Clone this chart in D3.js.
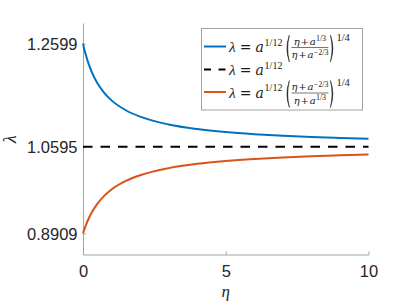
<!DOCTYPE html>
<html><head><meta charset="utf-8">
<script src="https://cdn.jsdelivr.net/npm/d3@7"></script>
<style>html,body{margin:0;padding:0;background:#fff;}</style>
</head><body>
<svg id="c" width="407" height="305"></svg>
<script>
const eta =      [0, 0.05, 0.1, 0.2, 0.25, 0.3, 0.5, 0.75, 1, 1.5, 2, 3, 4, 5, 6, 7, 8, 9, 10];
const upper =    [1.2599, 1.2482, 1.2378, 1.2201, 1.2126, 1.2057, 1.1836, 1.1639, 1.1496, 1.1304, 1.1179, 1.1027, 1.0938, 1.0879, 1.0838, 1.0807, 1.0783, 1.0764, 1.0748];
const lower =    [0.8909, 0.8993, 0.9068, 0.9200, 0.9257, 0.9310, 0.9484, 0.9644, 0.9764, 0.9930, 1.0041, 1.0179, 1.0262, 1.0317, 1.0357, 1.0387, 1.0410, 1.0428, 1.0443];
const baseline = 1.0595;
const yTicks = [0.8909, 1.0595, 1.2599];
const yTickLabels = ["0.8909", "1.0595", "1.2599"];
const xTicks = [0, 5, 10];
const xDomain = [0, 10];
const yDomain = [0.85, 1.30];

const svg = d3.select("#c");
const L = 83, R = 368.5, T = 23, B = 254.5;
const x = d3.scaleLinear().domain(xDomain).range([L, R]);
const y = d3.scaleLinear().domain(yDomain).range([B, T]);
const axisColor = "#a3a3a3", textColor = "#262626";
const sans = "'Liberation Sans', Arial, Helvetica, sans-serif";
const serif = "'DejaVu Serif', serif";
const serif2 = "'Liberation Serif', serif";

// axes
const gx = svg.append("g").attr("transform", `translate(0,${B})`)
  .call(d3.axisBottom(x).tickValues(xTicks).tickSizeInner(-3).tickSizeOuter(0).tickPadding(11).tickFormat(d3.format("d")));
const gy = svg.append("g").attr("transform", `translate(${L},0)`)
  .call(d3.axisLeft(y).tickValues(yTicks).tickSizeInner(-3).tickSizeOuter(0).tickPadding(5.5).tickFormat((d,i)=>yTickLabels[i]));
[gx, gy].forEach(g => {
  g.select(".domain").attr("stroke", axisColor).attr("stroke-width", 1);
  g.selectAll(".tick line").attr("stroke", axisColor);
  g.selectAll(".tick text").attr("fill", textColor).style("font-family", sans).style("font-size", "16.5px");
});
gx.selectAll(".tick text").attr("dy", "0.71em");
gy.selectAll(".tick text").attr("dy", "0.36em");

// lines
const line = d3.line().x((d,i)=>x(eta[i])).y(d=>y(d)).curve(d3.curveMonotoneX);
svg.append("path").datum(upper).attr("d", line).attr("fill","none").attr("stroke","#0072BD").attr("stroke-width",2);
svg.append("path").datum(lower).attr("d", line).attr("fill","none").attr("stroke","#D95319").attr("stroke-width",2);
svg.append("line").attr("x1", x(xDomain[0])).attr("x2", x(xDomain[1])).attr("y1", y(baseline)).attr("y2", y(baseline))
  .attr("stroke","#000").attr("stroke-width",2).attr("stroke-dasharray","9.5,8");

// axis labels
svg.append("text").attr("x", (L+R)/2).attr("y", 297).attr("text-anchor","middle")
  .style("font-family", serif2).style("font-style","italic").style("font-size","17px").attr("fill", textColor).text("η");
svg.append("text").attr("transform", "translate(16,139) rotate(-90)").attr("text-anchor","middle")
  .style("font-family", serif2).style("font-style","italic").style("font-size","18px").attr("fill", textColor).text("λ");

// legend
const lg = svg.append("g");
lg.append("rect").attr("x", 201.5).attr("y", 28.5).attr("width", 161).attr("height", 81.5)
  .attr("fill","#fff").attr("stroke", "#a3a3a3").attr("stroke-width", 1);

const ink = "#1a1a1a";
function piece(g, xx, yy, txt, size, italic, fam) {
  const t = g.append("text").attr("x", xx).attr("y", yy).style("font-family", fam || serif)
    .style("font-size", size + "px").style("font-style", italic ? "italic" : "normal").attr("fill", ink).text(txt);
  return xx + t.node().getComputedTextLength();
}
function lambdaEq(g, x0, yb) {
  let cx = piece(g, x0, yb, "λ", 15.5, true, serif2);
  cx = piece(g, cx + 4, yb, "=", 14, false);
  cx = piece(g, cx + 4, yb, "a", 14, true);
  cx = piece(g, cx + 0.8, yb - 6.5, "1/12", 10, false, serif2);
  return cx;
}
function paren(g, x0, top, bot, left) {
  const w = 4.5, mid = (top + bot) / 2;
  const p = left
    ? `M${x0+w},${top} Q${x0-0.5},${mid} ${x0+w},${bot} Q${x0+1.2},${mid} ${x0+w},${top} Z`
    : `M${x0},${top} Q${x0+w+0.5},${mid} ${x0},${bot} Q${x0+w-1.2},${mid} ${x0},${top} Z`;
  g.append("path").attr("d", p).attr("fill", ink).attr("stroke", ink).attr("stroke-width", 0.5);
  return x0 + w;
}
function frac(g, x0, yb, num, den) {
  function draw(parts, yy) {
    let cx = 0; const grp = g.append("g");
    parts.forEach(p => {
      const t = grp.append("text").attr("x", cx).attr("y", p[2] ? yy - 3.5 : yy)
        .style("font-family", p[2] ? serif2 : serif).style("font-size", (p[2] ? 8 : 10) + "px")
        .style("font-style", p[1] ? "italic" : "normal").attr("fill", ink).text(p[0]);
      cx += t.node().getComputedTextLength() + (p[3] || 0);
    });
    return {grp, w: cx};
  }
  let cx = paren(g, x0, yb - 17, yb + 10, true) + 2;
  const n = draw(num, yb - 7.5), d = draw(den, yb + 6);
  const w = Math.max(n.w, d.w);
  n.grp.attr("transform", `translate(${cx + (w - n.w)/2},0)`);
  d.grp.attr("transform", `translate(${cx + (w - d.w)/2},0)`);
  g.append("line").attr("x1", cx).attr("x2", cx + w).attr("y1", yb - 4.5).attr("y2", yb - 4.5).attr("stroke", ink).attr("stroke-width", 0.6);
  cx += w + 2;
  cx = paren(g, cx, yb - 17, yb + 10, false);
  cx = piece(g, cx + 1.5, yb - 11.5, "1/4", 10.5, false, serif2);
  return cx;
}
const entries = [
  {color:"#0072BD", dash:null, ly:46.5, yb:52, num:[["η",1,0,0.8],["+",0,0,0.8],["a",1,0,0.3],["1/3",0,1]], den:[["η",1,0,0.8],["+",0,0,0.8],["a",1,0,0.3],["−2/3",0,1]]},
  {color:"#000", dash:"7,7.5", ly:69.5, yb:75, num:null},
  {color:"#D95319", dash:null, ly:92, yb:97.5, num:[["η",1,0,0.8],["+",0,0,0.8],["a",1,0,0.3],["−2/3",0,1]], den:[["η",1,0,0.8],["+",0,0,0.8],["a",1,0,0.3],["1/3",0,1]]}
];
entries.forEach(e => {
  lg.append("line").attr("x1", 204).attr("x2", 226).attr("y1", e.ly).attr("y2", e.ly)
    .attr("stroke", e.color).attr("stroke-width", 2).attr("stroke-dasharray", e.dash);
  const cx = lambdaEq(lg, 229, e.yb);
  if (e.num) frac(lg, cx + 2.5, e.yb, e.num, e.den);
});
</script>
</body></html>
